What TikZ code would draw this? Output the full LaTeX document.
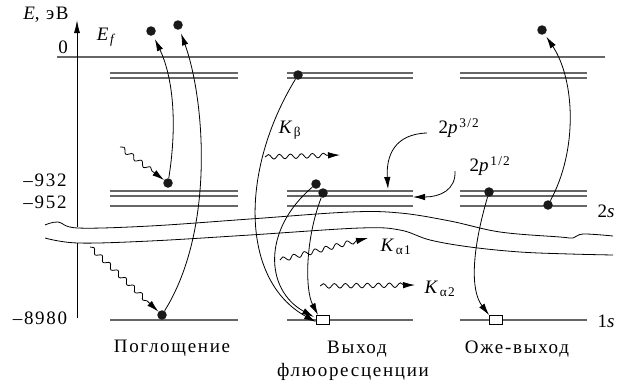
\documentclass[tikz,border=0pt]{standalone}
\usepackage{fontspec}
\setmainfont{Liberation Serif}[LetterSpace=9]
\usetikzlibrary{arrows.meta,decorations.pathmorphing}
\begin{document}
\begin{tikzpicture}[x=1pt,y=-1pt,
  font=\fontsize{19}{21}\selectfont,
  level/.style={line width=1.3pt, draw=black!60},
  tip/.style={-{Latex[length=12pt,width=6.5pt]}},
  conn/.style={line width=0.8pt, tip},
  wave/.style={line width=0.8pt, tip, decorate,
    decoration={snake, amplitude=2.3pt, segment length=11pt, post length=11pt}},
  brk/.style={line width=0.8pt},
  dot/.style={circle, fill=black!90, inner sep=0pt, minimum size=9.5pt},
  hole/.style={rectangle, draw, line width=0.8pt, fill=white, inner sep=0pt,
    minimum width=13pt, minimum height=9pt},
  lbl/.style={inner sep=0pt}]
\useasboundingbox (0,0) rectangle (618,383);

% energy levels
\draw[level] (57,57) -- (605,57);
\foreach \a/\b in {110/238, 287/413, 460/587} {
  \draw[level] (\a,73) -- (\b,73);
  \draw[level] (\a,78) -- (\b,78);
  \draw[level] (\a,191) -- (\b,191);
  \draw[level] (\a,196) -- (\b,196);
  \draw[level] (\a,206) -- (\b,206);
  \draw[level] (\a,320) -- (\b,320);
}

% axis
\draw[line width=0.9pt] (77,318) -- (77,243);
\draw[line width=0.9pt, -{Latex[length=13pt,width=6pt]}] (77,227) -- (77,20);

% break lines
\draw[brk] plot[smooth, tension=0.6] coordinates {(45,225) (58,222) (78,228) (150,226) (250,219) (350,212) (400,213) (450,221) (500,232) (560,237) (573,238) (583,234) (613,236)};
\draw[brk] plot[smooth, tension=0.6] coordinates {(45,238) (78,243) (150,241) (250,235) (360,228) (400,230) (430,240) (470,247) (520,252) (570,254) (613,255)};

% axis labels
\node[lbl] (ax) at (46,15) {\textit{E}, эВ};
\node[lbl] (z0) at (63,47) {0};
\node[lbl] (ef) at (107,37) {\textit{E}\textsubscript{\textit{f}}};
\node[lbl] (l932) at (45,180) {–932};
\node[lbl] (l952) at (45,202) {–952};
\node[lbl] (l8980) at (40,318) {–8980};
\node[lbl] (s2) at (607,211) {2\textit{s}};
\node[lbl] (s1) at (607,321) {1\textit{s}};

% electrons and holes
\node[dot] (a1) at (151,31) {};
\node[dot] (a2) at (178,25) {};
\node[dot] (a3) at (168,183) {};
\node[dot] (a4) at (162,315) {};
\node[dot] (m1) at (298,75) {};
\node[dot] (m2) at (316,184) {};
\node[dot] (m3) at (323,193) {};
\node[hole] (mh) at (323,320) {};
\node[dot] (r1) at (542,30) {};
\node[dot] (r2) at (489,192) {};
\node[dot] (r3) at (548,205) {};
\node[hole] (rh) at (496,320) {};

% absorption
\draw[conn, shorten >=4pt] (a3) .. controls (178,120) and (172,75) .. (a1);
\draw[conn, shorten >=4pt] (a4) .. controls (215,230) and (205,100) .. (a2);
\coordinate (w1s) at (120,147);
\coordinate (w2s) at (90,247);
\draw[wave] (w1s) -- (a3);
\draw[wave] (w2s) -- (a4);

% fluorescence
\coordinate (mt1) at (316,322);
\coordinate (mt2) at (314,317);
\coordinate (mt3) at (318,315);
\draw[conn] (m1) .. controls (240,170) and (240,280) .. (mt1);
\draw[conn] (m2) .. controls (262,230) and (265,290) .. (mt2);
\draw[conn] (m3) .. controls (305,240) and (305,290) .. (mt3);

\node[lbl] (kb) at (290,130) {\textit{K}\textsubscript{β}};
\node[lbl] (ka1) at (396,247) {\textit{K}\textsubscript{α1}};
\node[lbl] (ka2) at (440,289) {\textit{K}\textsubscript{α2}};
\coordinate (kbs) at (265,157); \coordinate (kbe) at (340,155);
\coordinate (ka1s) at (280,260); \coordinate (ka1e) at (368,238);
\coordinate (ka2s) at (320,286); \coordinate (ka2e) at (415,285);
\draw[wave] (kbs) -- (kbe);
\draw[wave] (ka1s) -- (ka1e);
\draw[wave] (ka2s) -- (ka2e);

% 2p labels
\node[lbl] (p32) at (459,128) {2\textit{p}\textsuperscript{3/2}};
\node[lbl] (p12) at (490,166) {2\textit{p}\textsuperscript{1/2}};
\coordinate (s32) at (427,133); \coordinate (t32) at (388,189);
\coordinate (s12) at (455,171); \coordinate (t12) at (413,197);
\draw[conn] (s32) .. controls (395,134) and (386,155) .. (t32);
\draw[conn] (s12) .. controls (456,190) and (440,197) .. (t12);

% Auger
\draw[conn, shorten >=3pt] (r3) .. controls (578,150) and (575,80) .. (r1);
\draw[conn] (r2) .. controls (472,250) and (470,290) .. (rh.north west);

% captions
\node[lbl, anchor=base] (c1) at (172,352) {Поглощение};
\node[lbl, anchor=base] (c2) at (357,353) {Выход};
\node[lbl, anchor=base] (c3) at (353,376) {флюоресценции};
\node[lbl, anchor=base] (c4) at (517,353) {Оже-выход};
\end{tikzpicture}
\end{document}
